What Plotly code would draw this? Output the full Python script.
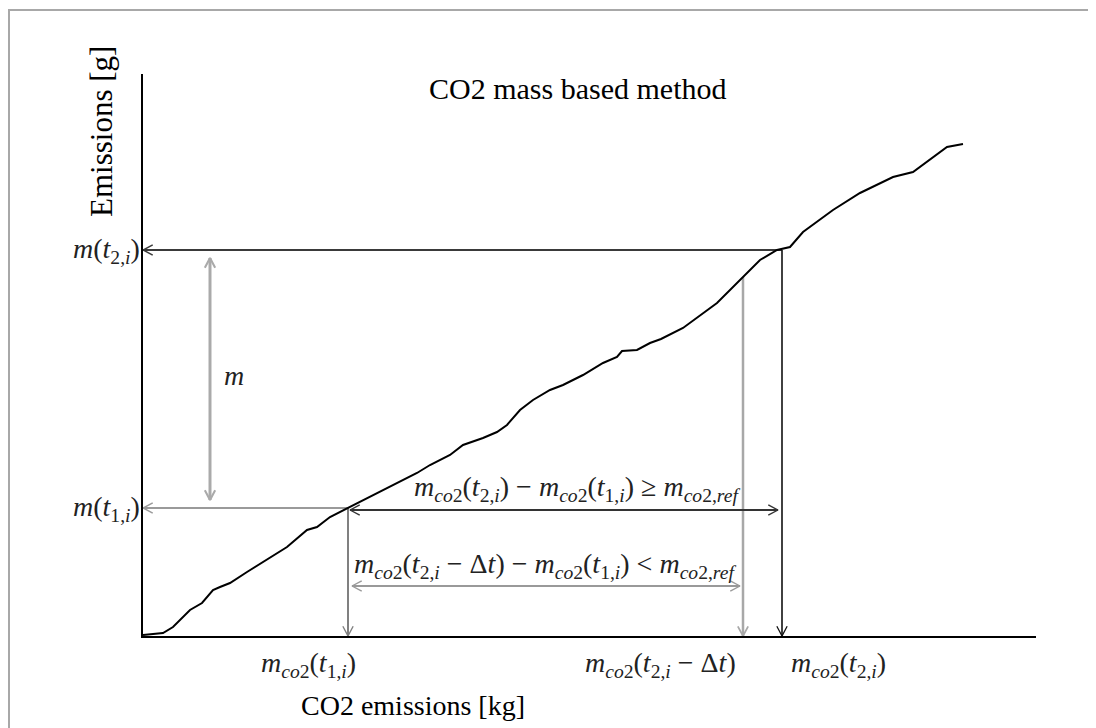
import math
import plotly.graph_objects as go

# ---- data (cumulative CO2 vs cumulative emissions, schematic units) ----
co2_kg = [0, 20, 30, 47, 59, 70, 77, 87, 104, 127, 144, 164, 174, 187, 205, 240, 274, 287,
          307, 320, 340, 354, 364, 377, 390, 407, 420, 440, 460, 474, 479, 494, 507, 518,
          540, 574, 600, 617, 634, 647, 660, 690, 717, 750, 770, 784, 804, 820]
emis_g = [1, 3, 9, 26, 33, 46, 49, 53, 64, 78, 89, 106, 109, 119, 128, 146, 163, 171,
          181, 191, 198, 204, 211, 226, 236, 246, 251, 261, 273, 279, 285, 286, 293, 297,
          308, 333, 359, 376, 386, 389, 404, 426, 443, 459, 464, 474, 489, 492]

# marked points
t1_co2, t1_m = 205, 128
t2dt_co2, t2dt_m = 600, 359
t2_co2, t2_m = 639, 386

X_MAX, Y_MAX = 893, 562
SERIF = "Liberation Serif"

fig = go.Figure()


def head(tip, tail, L=11, ang=28):
    dx, dy = tail[0] - tip[0], tail[1] - tip[1]
    d = math.hypot(dx, dy)
    ux, uy = dx / d, dy / d
    a = math.radians(ang)
    pts = []
    for s in (1, -1):
        c, si = math.cos(s * a), math.sin(s * a)
        rx = ux * c - uy * si
        ry = ux * si + uy * c
        pts.append((tip[0] + L * rx, tip[1] + L * ry))
    return [pts[0][0], tip[0], pts[1][0]], [pts[0][1], tip[1], pts[1][1]]


def arrow(p0, p1, color, width, heads="end"):
    fig.add_trace(go.Scatter(x=[p0[0], p1[0]], y=[p0[1], p1[1]], mode="lines",
                             line=dict(color=color, width=width), hoverinfo="skip",
                             showlegend=False))
    ends = []
    if heads in ("end", "both"):
        ends.append((p1, p0))
    if heads in ("start", "both"):
        ends.append((p0, p1))
    for tip, tail in ends:
        hx, hy = head(tip, tail)
        fig.add_trace(go.Scatter(x=hx, y=hy, mode="lines",
                                 line=dict(color=color, width=max(1.3, width * 0.7)),
                                 hoverinfo="skip", showlegend=False))


m_arrow_x = 67
dbl_upper_y = t1_m - 2
dbl_lower_y = 50

arrow((t2_co2, t2_m), (0, t2_m), "#3a3a3a", 2.2)
arrow((t1_co2, t1_m), (0, t1_m), "#9a9a9a", 2.2)
arrow((m_arrow_x, t1_m + 8), (m_arrow_x, t2_m - 8), "#aaaaaa", 3, "both")
arrow((t1_co2, t1_m), (t1_co2, 0), "#808080", 2)
arrow((t2dt_co2, t2dt_m), (t2dt_co2, 0), "#a8a8a8", 2.5)
arrow((t2_co2, t2_m), (t2_co2, 0), "#111111", 1.6)
arrow((t1_co2 + 2, dbl_upper_y), (t2_co2 - 4, dbl_upper_y), "#333333", 2, "both")
arrow((t1_co2 + 4, dbl_lower_y), (t2dt_co2 - 3, dbl_lower_y), "#999999", 2, "both")

fig.add_trace(go.Scatter(x=co2_kg, y=emis_g, mode="lines",
                         line=dict(color="black", width=2), hoverinfo="skip",
                         showlegend=False))

mco2 = "<i>m</i><sub><i>co</i>2</sub>"
math_font = dict(family=SERIF, size=28, color="#222222")
ann = [
    dict(x=434, y=548, text="CO2 mass based method",
         font=dict(family=SERIF, size=30, color="black")),
    dict(x=270, y=-69, text="CO2 emissions [kg]",
         font=dict(family=SERIF, size=28, color="black")),
    dict(x=-42, y=504, text="Emissions [g]", textangle=-90,
         font=dict(family=SERIF, size=31, color="black")),
    dict(x=-1, y=t2_m, xanchor="right",
         text="<i>m</i>(<i>t</i><sub>2,<i>i</i></sub>)", font=math_font),
    dict(x=-1, y=t1_m, xanchor="right",
         text="<i>m</i>(<i>t</i><sub>1,<i>i</i></sub>)", font=math_font),
    dict(x=m_arrow_x + 24, y=260, text="<i>m</i>", font=math_font),
    dict(x=t1_co2 - 40, y=-28, text=mco2 + "(<i>t</i><sub>1,<i>i</i></sub>)", font=math_font),
    dict(x=t2dt_co2 - 83, y=-28,
         text=mco2 + "(<i>t</i><sub>2,<i>i</i></sub> − Δ<i>t</i>)", font=math_font),
    dict(x=t2_co2 + 56, y=-28, text=mco2 + "(<i>t</i><sub>2,<i>i</i></sub>)", font=math_font),
    dict(x=434, y=148,
         text=mco2 + "(<i>t</i><sub>2,<i>i</i></sub>) − " + mco2 +
         "(<i>t</i><sub>1,<i>i</i></sub>) ≥ <i>m</i><sub><i>co</i>2,<i>ref</i></sub>",
         font=math_font),
    dict(x=402, y=71,
         text=mco2 + "(<i>t</i><sub>2,<i>i</i></sub> − Δ<i>t</i>) − " + mco2 +
         "(<i>t</i><sub>1,<i>i</i></sub>) &lt; <i>m</i><sub><i>co</i>2,<i>ref</i></sub>",
         font=math_font),
]
for a in ann:
    a["x"] = a["x"] / X_MAX
    a["y"] = a["y"] / Y_MAX
    a["xref"] = "paper"
    a["yref"] = "paper"
    a.setdefault("xanchor", "center")
    a.setdefault("yanchor", "middle")
    a["showarrow"] = False
    fig.add_annotation(**a)

# page body adds an 8px offset; shift the figure content accordingly
OFF = 8
L, T = 143 - OFF, 74 - OFF
R = 1096 - L - X_MAX
B = 728 - T - Y_MAX
fig.add_shape(type="rect", xref="paper", yref="paper",
              x0=(1 - L) / X_MAX, x1=2, y0=-1, y1=(Y_MAX + T - 2) / Y_MAX,
              line=dict(color="#a8a8a8", width=2))

fig.update_layout(
    width=1096, height=728,
    margin=dict(l=L, r=R, t=T, b=B),
    paper_bgcolor="white", plot_bgcolor="white",
    xaxis=dict(range=[0, X_MAX], showline=True, linecolor="black", linewidth=2,
               showgrid=False, zeroline=False, showticklabels=False, ticks=""),
    yaxis=dict(range=[0, Y_MAX], showline=True, linecolor="black", linewidth=2,
               showgrid=False, zeroline=False, showticklabels=False, ticks=""),
    showlegend=False,
)

fig.write_html("out.html")
